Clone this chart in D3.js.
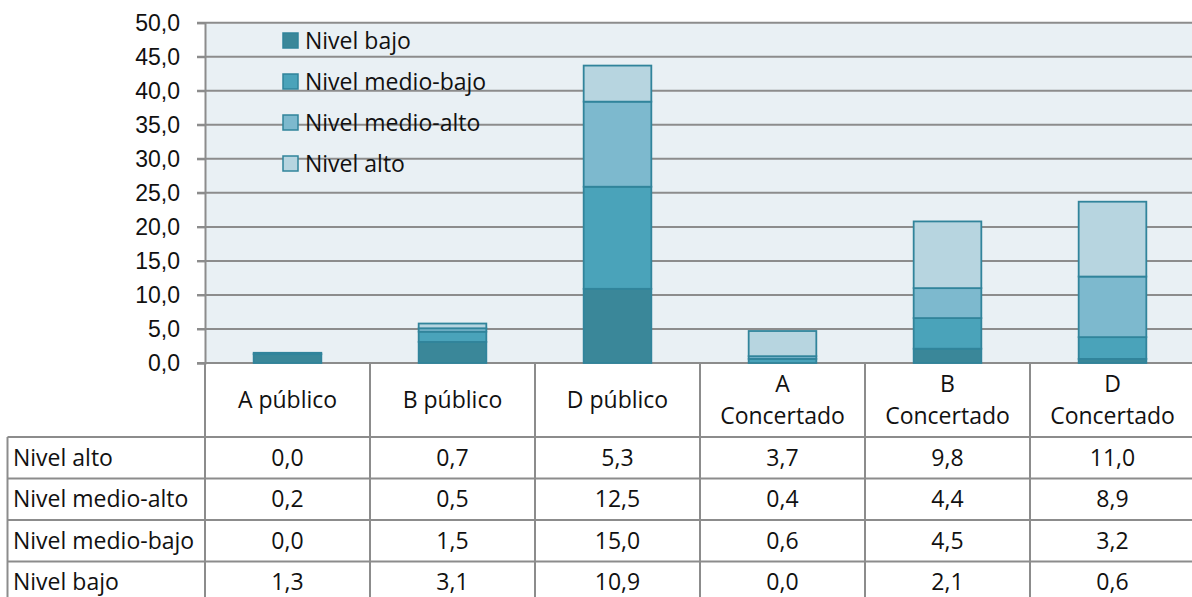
<!DOCTYPE html>
<html lang="es">
<head>
<meta charset="UTF-8">
<title>Niveles por modelo y titularidad</title>
<script src="https://d3js.org/d3.v7.min.js"></script>
<style>
    body { margin: 0; background: #fff; }
    svg { display: block; font-family: 'Open Sans', 'Noto Sans', sans-serif; }
    .lbl { font-size: 23px; fill: #111; }
</style>
</head>
<body>
<div id="chart"></div>
<script>
// datos
const categories = ["A público", "B público", "D público", "A Concertado", "B Concertado", "D Concertado"];
const seriesNames = ["Nivel bajo", "Nivel medio-bajo", "Nivel medio-alto", "Nivel alto"];
const nivelBajo      = [1.3, 3.1, 10.9, 0.0, 2.1, 0.6];
const nivelMedioBajo = [0.0, 1.5, 15.0, 0.6, 4.5, 3.2];
const nivelMedioAlto = [0.2, 0.5, 12.5, 0.4, 4.4, 8.9];
const nivelAlto      = [0.0, 0.7, 5.3, 3.7, 9.8, 11.0];
const yTicks = [0, 5, 10, 15, 20, 25, 30, 35, 40, 45, 50];

const seriesValues = [nivelBajo, nivelMedioBajo, nivelMedioAlto, nivelAlto];
const colors = ["#3a8799", "#4aa3ba", "#7db9ce", "#b7d5e0"];
const stroke = "#31849b";
const gridColor = "#8c8c8c";

const W = 1192, H = 597;
const plot = {left: 205, right: 1195, top: 22.7, bottom: 363};
const headerH = 74, rowH = 41.5, tableLeft = 7.5;

const fmt = v => d3.format(".1f")(v).replace(".", ",");

const svg = d3.select("#chart").append("svg")
    .attr("width", W).attr("height", H);

const x = d3.scaleBand().domain(categories).range([plot.left, plot.right]);
const y = d3.scaleLinear().domain([0, 50]).range([plot.bottom, plot.top]);
const barW = x.bandwidth() * 0.41;

// fondo del área de trazado
svg.append("rect")
    .attr("x", plot.left).attr("y", plot.top)
    .attr("width", plot.right - plot.left).attr("height", plot.bottom - plot.top)
    .attr("fill", "#e9f0f4");

// cuadrícula
svg.append("g").selectAll("line").data(yTicks).join("line")
    .attr("x1", plot.left - 8).attr("x2", plot.right)
    .attr("y1", d => y(d)).attr("y2", d => y(d))
    .attr("stroke", gridColor).attr("stroke-width", 2);

// eje Y
const yAxis = svg.append("g")
    .attr("transform", `translate(${plot.left},0)`)
    .call(d3.axisLeft(y).tickValues(yTicks).tickFormat(fmt).tickSize(8).tickPadding(17));
yAxis.select(".domain").attr("stroke", gridColor).attr("stroke-width", 2);
yAxis.selectAll(".tick line").attr("stroke", gridColor).attr("stroke-width", 2);
yAxis.selectAll(".tick text").attr("class", "lbl").attr("font-family", null).attr("font-size", null);

// barras apiladas
const rows = categories.map((c, i) => {
    const r = {cat: c};
    seriesNames.forEach((s, k) => r[s] = seriesValues[k][i]);
    return r;
});
const stacked = d3.stack().keys(seriesNames)(rows);

svg.append("g").selectAll("g").data(stacked).join("g")
    .attr("fill", (d, i) => colors[i])
    .selectAll("rect").data(d => d).join("rect")
    .attr("x", d => x(d.data.cat) + (x.bandwidth() - barW) / 2)
    .attr("width", barW)
    .attr("y", d => y(d[1]))
    .attr("height", d => y(d[0]) - y(d[1]))
    .attr("stroke", stroke)
    .attr("stroke-width", 1.8)
    .attr("stroke-opacity", d => d[1] - d[0] > 0 ? 1 : 0);

// leyenda
const legend = svg.append("g").attr("transform", "translate(283,0)");
const legendY = [41, 82, 123, 164];
seriesNames.forEach((s, i) => {
    legend.append("rect")
        .attr("x", 0).attr("y", legendY[i] - 8)
        .attr("width", 15).attr("height", 15)
        .attr("fill", colors[i]).attr("stroke", stroke).attr("stroke-width", 1.5);
    legend.append("text").attr("class", "lbl")
        .attr("x", 22).attr("y", legendY[i]).attr("dy", "0.35em")
        .text(s);
});

// tabla de datos
const table = svg.append("g");
const tableTop = plot.bottom + headerH;
const tableRows = seriesNames.slice().reverse();
const tableVals = seriesValues.slice().reverse();

// líneas verticales
const colEdges = categories.map(c => x(c)).concat([plot.right]);
table.selectAll(".vline").data(colEdges).join("line")
    .attr("x1", d => d).attr("x2", d => d)
    .attr("y1", plot.bottom).attr("y2", H)
    .attr("stroke", gridColor).attr("stroke-width", 2);
table.append("line")
    .attr("x1", tableLeft).attr("x2", tableLeft)
    .attr("y1", tableTop).attr("y2", H)
    .attr("stroke", gridColor).attr("stroke-width", 2);
// líneas horizontales
table.selectAll(".hline").data(d3.range(tableRows.length + 1)).join("line")
    .attr("x1", tableLeft).attr("x2", plot.right)
    .attr("y1", i => tableTop + i * rowH).attr("y2", i => tableTop + i * rowH)
    .attr("stroke", gridColor).attr("stroke-width", 2);

// cabecera de categorías
categories.forEach(c => {
    const lines = c.includes("Concertado") ? c.split(" ") : [c];
    const cx = x(c) + x.bandwidth() / 2;
    const cy = plot.bottom + headerH / 2;
    lines.forEach((t, j) => {
        table.append("text").attr("class", "lbl")
            .attr("x", cx)
            .attr("y", cy + (j - (lines.length - 1) / 2) * 32)
            .attr("dy", "0.35em")
            .attr("text-anchor", "middle")
            .text(t);
    });
});

// filas
tableRows.forEach((s, r) => {
    const cy = tableTop + r * rowH + rowH / 2;
    table.append("text").attr("class", "lbl")
        .attr("x", 13).attr("y", cy).attr("dy", "0.35em")
        .text(s);
    categories.forEach((c, i) => {
        table.append("text").attr("class", "lbl")
            .attr("x", x(c) + x.bandwidth() / 2).attr("y", cy).attr("dy", "0.35em")
            .attr("text-anchor", "middle")
            .text(fmt(tableVals[r][i]));
    });
});
</script>
</body>
</html>
